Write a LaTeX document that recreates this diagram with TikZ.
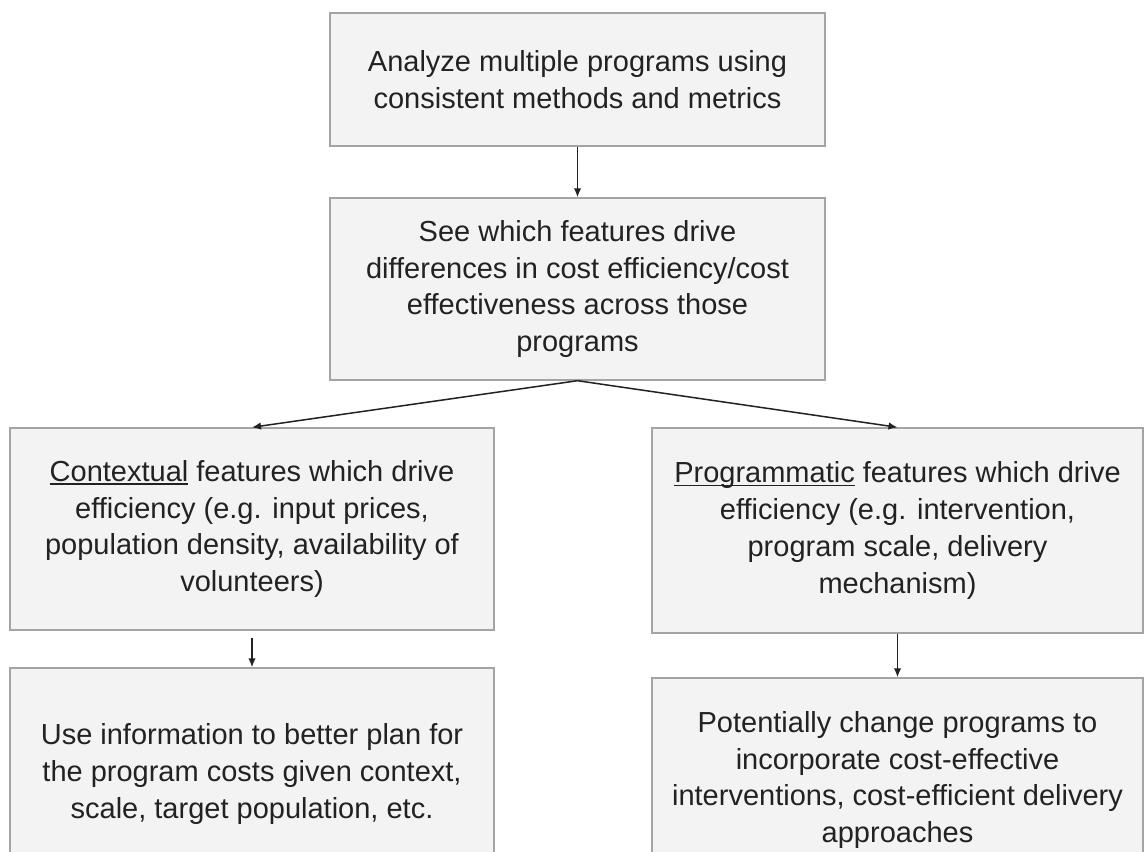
\documentclass[tikz,border=0pt]{standalone}
\usepackage{fontspec}
\setmainfont{Liberation Sans}
\usetikzlibrary{arrows.meta}
\definecolor{boxfill}{HTML}{F3F3F3}
\definecolor{boxline}{HTML}{A4A4A4}
\definecolor{ink}{HTML}{222222}
% underline drawn at a fixed offset, crossing descenders
\newcommand\undertext[1]{\setbox0\hbox{#1}\rlap{\rule[-0.12em]{\wd0}{0.065em}}#1}
\begin{document}
\begin{tikzpicture}[x=1pt,y=-1pt,
  card/.style={draw=boxline, line width=1.4pt, fill=boxfill, text=ink,
    align=center, inner sep=0pt, font=\fontsize{29}{36.7}\selectfont},
  flow/.style={draw=ink, line width=1.5pt, -{Latex[length=9pt,width=7.5pt]}}]
\useasboundingbox (0,0) rectangle (1148,851);
\fill[white] (0,0) rectangle (1148,851);

\node[card, minimum width=495, minimum height=133] (analyze) at (577.5,79.5)
  {Analyze multiple programs using\\consistent methods and metrics};
\node[card, minimum width=495, minimum height=182] (see) at (577.5,289)
  {See which features drive\\differences in cost efficiency/cost\\effectiveness across those\\programs};
\node[card, minimum width=484, minimum height=202] (context) at (252,529)
  {\undertext{Contextual} features which drive\\efficiency (e.g. input prices,\\population density, availability of\\volunteers)};
\node[card, minimum width=491, minimum height=205] (program) at (897.5,530.5)
  {\undertext{Programmatic} features which drive\\efficiency (e.g. intervention,\\program scale, delivery\\mechanism)};
\node[card, minimum width=484, minimum height=212] (use) at (252,774)
  {Use information to better plan for\\the program costs given context,\\scale, target population, etc.};
\node[card, minimum width=491, minimum height=204] (change) at (897.5,780)
  {Potentially change programs to\\incorporate cost-effective\\interventions, cost-efficient delivery\\approaches};

\draw[flow] (analyze.south) -- (see.north);
\draw[flow] (see.south) -- (context.north);
\draw[flow] (see.south) -- (program.north);
\draw[flow] ([yshift=-7pt]context.south) -- (use.north);
\draw[flow] (program.south) -- (change.north);
\end{tikzpicture}
\end{document}
